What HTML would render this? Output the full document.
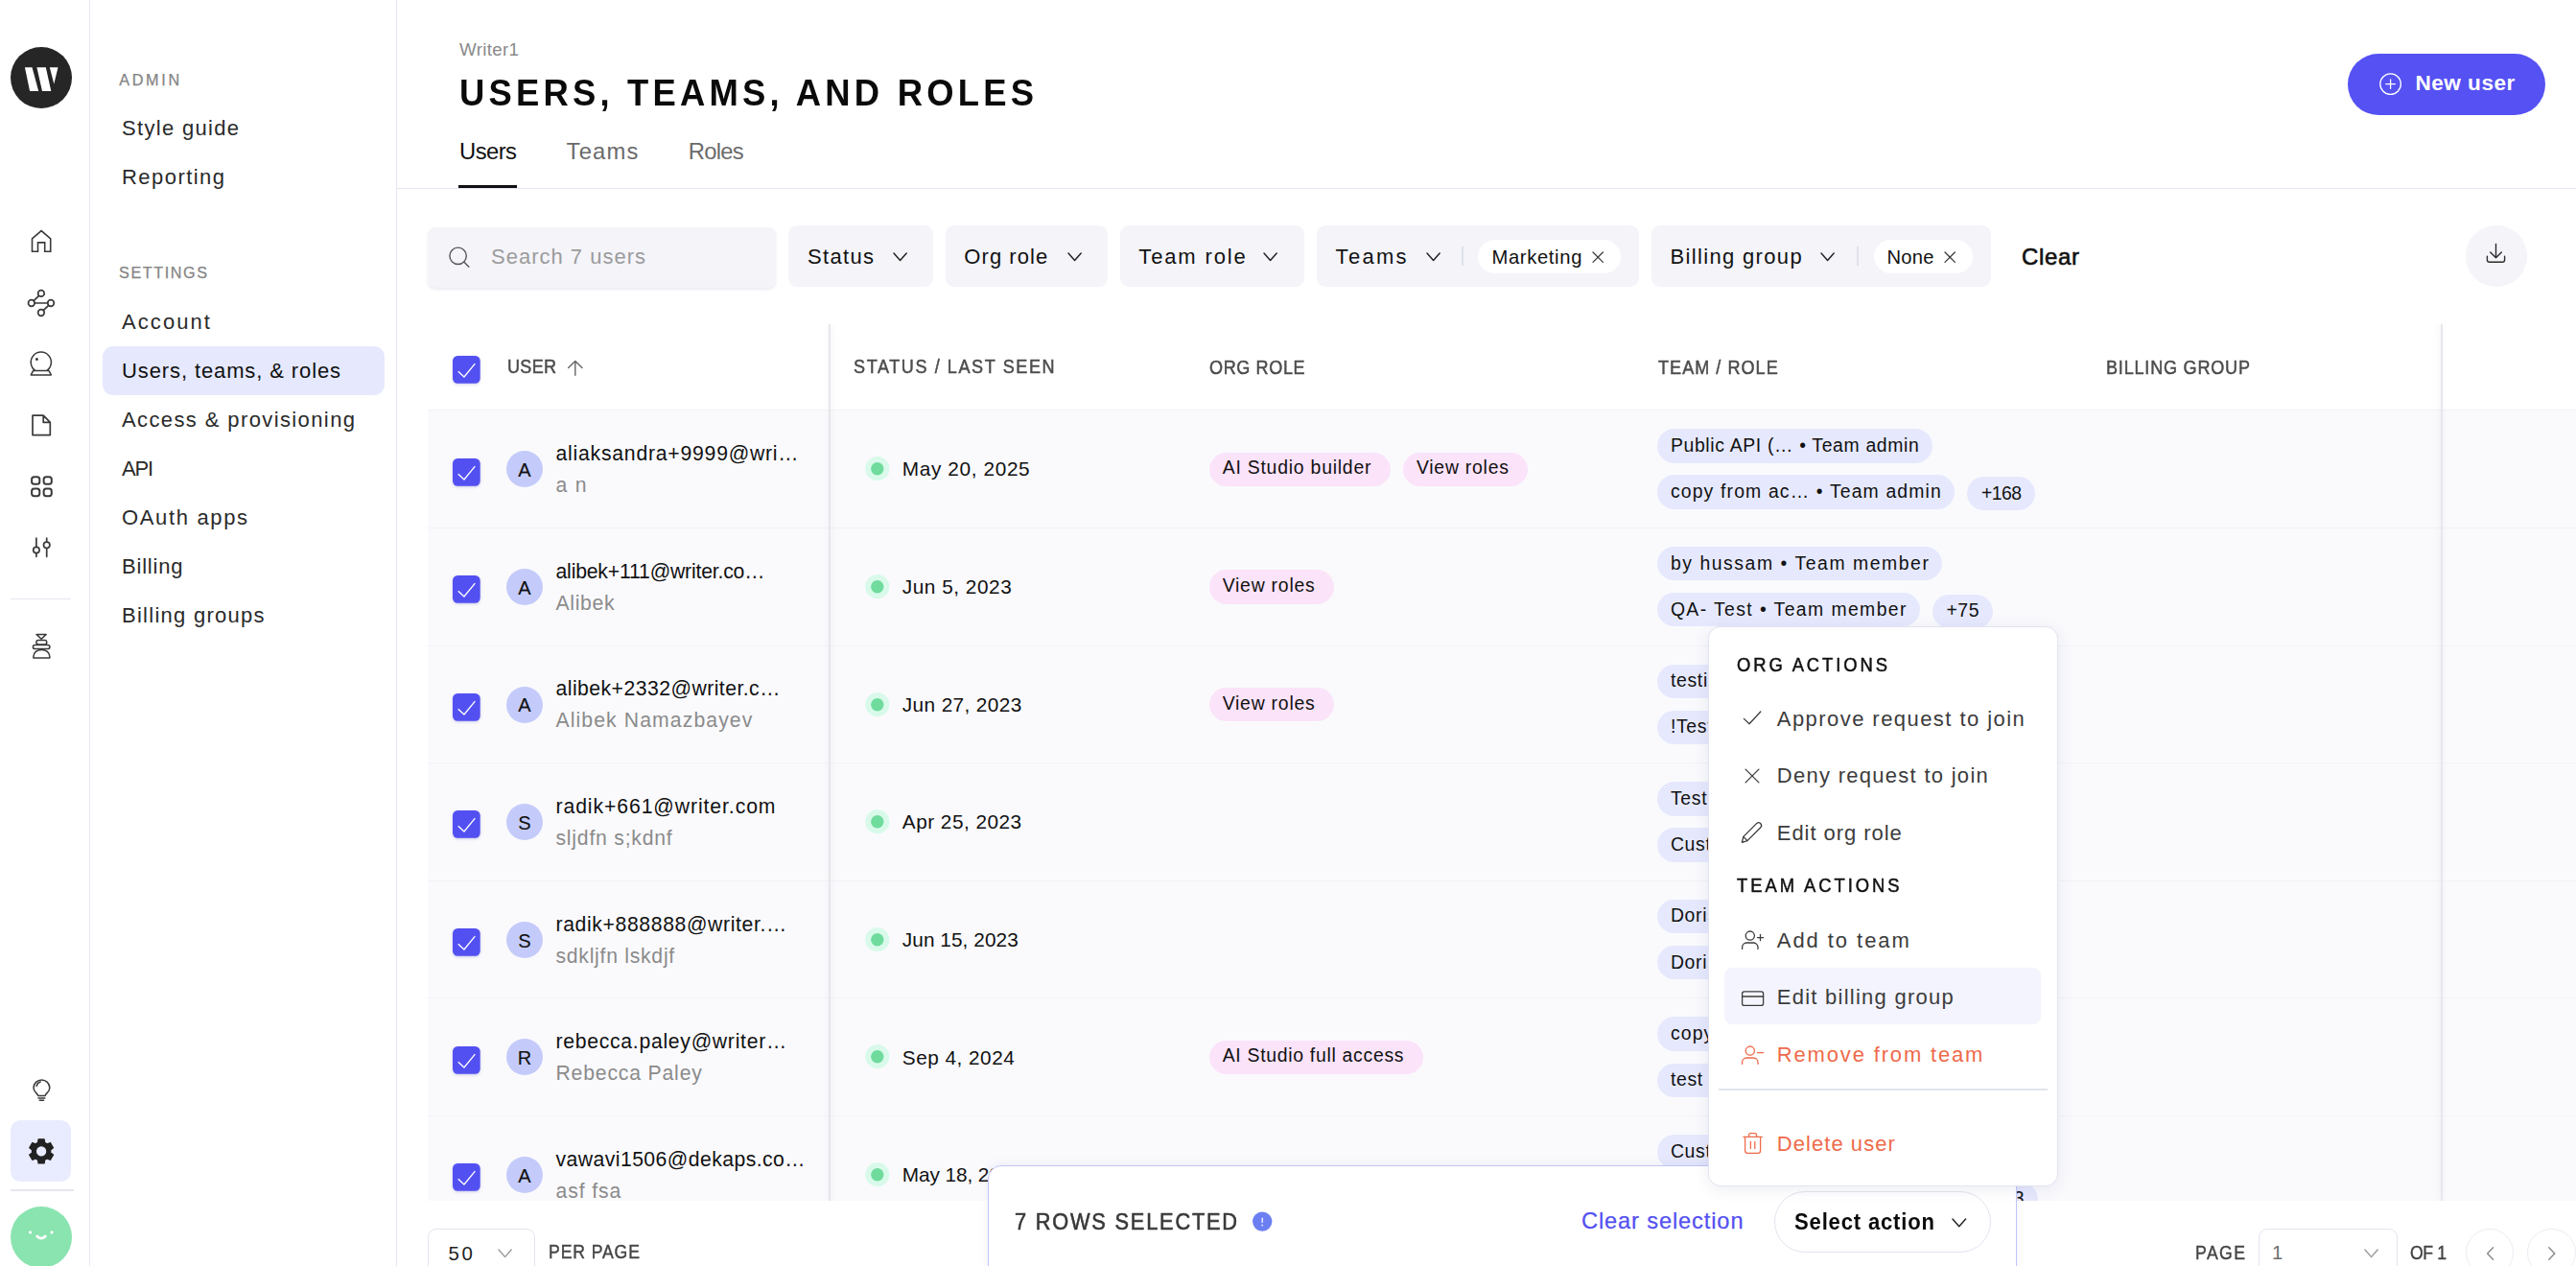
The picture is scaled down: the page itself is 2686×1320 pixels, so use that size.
<!DOCTYPE html>
<html lang="en">
<head>
<meta charset="utf-8">
<title>Users, teams, and roles</title>
<style>
*{box-sizing:border-box;margin:0;padding:0}
html,body{width:2686px;height:1320px;overflow:hidden;background:#fff;font-family:"Liberation Sans", sans-serif;-webkit-font-smoothing:antialiased}
.app,.app div,.app nav,.app aside,.app main,.app header,.app section,.app footer,.app button,.app svg,.t{position:absolute}
.app{overflow:hidden}
button{border:0;background:none;font:inherit}
h1.t{font-weight:700}
a.t{text-decoration:none}
.t{white-space:pre;display:block}
.ic{overflow:visible;display:block}
.rail{border-right:1.4px solid #e5e6f0;background:#fff}
.side{border-right:1.4px solid #e5e6f0;background:#fff}
.hr{background:#e6e7f0}
.tile{background:#e9ecfe;border-radius:10.5px}
.active{background:#e6e9fd;border-radius:11px}
.head{border-bottom:1.4px solid #e4e5ee}
.tabline{background:#111}
.newbtn{background:#5551f3;border-radius:32px}
.search{background:#f4f4f9;border-radius:8px;box-shadow:0 2px 3px rgba(120,120,160,.14)}
.fbtn{background:#f4f4f9;border-radius:9px}
.fsep{background:#e0e1ea}
.fchip{background:#fff;border-radius:18px}
.dl{background:#f4f4f9;border-radius:50%}
.table{overflow:hidden;background:#fafafd}
.thead{background:#fff}
.row{border-top:1.4px solid #f2f2f8}
.av{background:#c4cbfa;border-radius:50%}
.chip{border-radius:18px}
.pink{background:#fbe3f9}
.blue{background:#e6e9fd}
.vline{background:#e6e7ed}
.vline.l{box-shadow:1px 0 6px rgba(90,90,110,.11)}
.vline.r{box-shadow:-1px 0 6px rgba(90,90,110,.11)}
.pager{background:#fff}
.sel{border:1.4px solid #e4e6f0;border-radius:9px;background:#fff}
.circ{border:1.4px solid #ebecf3;border-radius:50%;background:#fff}
.selbar{background:#fff;border:1.4px solid #c0c6f8;border-radius:14px;box-shadow:0 -2px 10px rgba(90,100,200,.08)}
.selact{background:#fff;border:1.4px solid #e3e5ef;border-radius:32px}
.menu{background:#fff;border:1.2px solid #e2e3f1;border-radius:13px;box-shadow:0 3px 16px rgba(70,75,130,.10)}
.mhl{background:#f4f4fe;border-radius:8px}
.mhr{background:#e3e5ef}
</style>
</head>
<body>
<div class="app" style="left:0px;top:0px;width:2686px;height:1320px;">
 <nav class="rail" style="left:0px;top:0px;width:94px;height:1320px;">
  <svg class="ic" style="left:11px;top:49px;" width="64" height="64" viewBox="11 49 64 64"><circle cx="43" cy="81" r="32" fill="#262626"/><path d="M25.9 70.2 H33.5 L40.2 95 H31.1z M38.4 70.2 H47.8 L53.3 95 H44z M51.8 70.2 H60.5 L56.3 87.6z" fill="#fff"/></svg>
  <svg class="ic" style="left:28px;top:236px;" width="30" height="31" viewBox="28 236 30 31"><g fill="none" stroke="#3a3a3a" stroke-width="1.6" stroke-linecap="round" stroke-linejoin="round" ><path d="M33.5 262.3 V248.9 L43.1 240.6 L52.7 248.9 V262.3 H46.7 V252.9 H39.5 V262.3 Z" stroke-linejoin="miter"/></g></svg>
  <svg class="ic" style="left:26px;top:299px;" width="34" height="34" viewBox="26 299 34 34"><g fill="none" stroke="#3a3a3a" stroke-width="1.7" stroke-linecap="round" stroke-linejoin="round" ><circle cx="42.9" cy="305.9" r="3.3"/><circle cx="32.8" cy="316" r="3.3"/><circle cx="53" cy="316" r="3.3"/><circle cx="42.9" cy="326" r="3.3"/><path d="M36.1 316 H49.7 M40.6 308.3 L35.1 313.7 M50.7 318.3 L45.2 323.7"/></g></svg>
  <svg class="ic" style="left:28px;top:364px;" width="30" height="31" viewBox="28 364 30 31"><g fill="none" stroke="#3a3a3a" stroke-width="1.5" stroke-linecap="round" stroke-linejoin="round" ><path d="M36.74 386.4 A10.6 10.6 0 1 1 48.86 386.4 M34.7 386.4 H50.9 L53.3 390.9 H32.3 Z"/><circle cx="38.4" cy="374.5" r="0.75" fill="#3a3a3a"/></g></svg>
  <svg class="ic" style="left:29px;top:429px;" width="28" height="29" viewBox="29 429 28 29"><g fill="none" stroke="#3a3a3a" stroke-width="1.7" stroke-linecap="round" stroke-linejoin="round" ><path d="M34 433.2 H45.2 L52.3 440.4 V453.6 H34 Z M45.2 433.2 V440.4 H52.3"/></g></svg>
  <svg class="ic" style="left:29px;top:493px;" width="29" height="29" viewBox="29 493 29 29"><g fill="none" stroke="#3a3a3a" stroke-width="2" stroke-linecap="round" stroke-linejoin="round" ><rect x="33.1" y="497.2" width="8.2" height="7.6" rx="2.6"/><rect x="33.1" y="509.6" width="8.2" height="7.6" rx="2.6"/><rect x="45.6" y="497.2" width="8.2" height="7.6" rx="2.6"/><rect x="45.6" y="509.6" width="8.2" height="7.6" rx="2.6"/></g></svg>
  <svg class="ic" style="left:30px;top:557px;" width="27" height="27" viewBox="30 557 27 27"><g fill="none" stroke="#3a3a3a" stroke-width="1.7" stroke-linecap="round" stroke-linejoin="round" ><path d="M37.9 561.2 V570.3 M37.9 576.7 V580.3 M48.7 561.2 V565.1 M48.7 571.5 V580.3"/><circle cx="37.9" cy="573.5" r="3.2"/><circle cx="48.7" cy="568.3" r="3.2"/></g></svg>
  <div class="hr" style="left:11px;top:623.5px;width:63px;height:1.5px;"></div>
  <svg class="ic" style="left:29px;top:657px;" width="28" height="33" viewBox="29 657 28 33"><g fill="none" stroke="#3a3a3a" stroke-width="1.5" stroke-linecap="round" stroke-linejoin="round" ><path d="M38 661.4 H48.2 L43.1 666.2 Z"/><rect x="37.9" y="667.5" width="10.9" height="4.4" rx="2.2"/><rect x="34.4" y="672.4" width="17.5" height="4.2" rx="2.1"/><path d="M34.9 685.9 H51.8 V684.6 C51.8 680.2 48 677.4 43.35 677.4 C38.7 677.4 34.9 680.2 34.9 684.6 Z"/></g></svg>
  <svg class="ic" style="left:30px;top:1120px;" width="26" height="32" viewBox="30 1120 26 32"><g fill="none" stroke="#3a3a3a" stroke-width="1.5" stroke-linecap="round" stroke-linejoin="round" ><path d="M39.7 1142.5 C39.7 1140 35 1139.2 35 1134.3 A8.4 8.4 0 0 1 51.8 1134.3 C51.8 1139.2 47.1 1140 47.1 1142.5 Z M40 1145 H46.8 M41.3 1147.3 H45.5 M38.2 1132.4 C38.6 1130 40 1128.6 42.2 1128"/></g></svg>
  <div class="tile" style="left:11px;top:1167.8px;width:62.9px;height:64px;"></div>
  <svg class="ic" style="left:28px;top:1185px;" width="30" height="31" viewBox="28 1185 30 31"><path fill="#222" stroke="#222" stroke-width="1.3" stroke-linejoin="round" fill-rule="evenodd" d="M39.62 1191.34 L40.09 1187.86 L46.11 1187.86 L46.58 1191.34 L49.20 1192.86 L52.46 1191.52 L55.47 1196.74 L52.68 1198.88 L52.68 1201.92 L55.47 1204.06 L52.46 1209.28 L49.20 1207.94 L46.58 1209.46 L46.11 1212.94 L40.09 1212.94 L39.62 1209.46 L37.00 1207.94 L33.74 1209.28 L30.73 1204.06 L33.52 1201.92 L33.52 1198.88 L30.73 1196.74 L33.74 1191.52 L37.00 1192.86Z M37.30 1200.40 a5.8 5.8 0 1 0 11.6 0 a5.8 5.8 0 1 0 -11.6 0z"/></svg>
  <div class="hr" style="left:11px;top:1240px;width:65.6px;height:1.8px;"></div>
  <svg class="ic" style="left:11px;top:1257.5px;" width="64" height="62.5" viewBox="11 1257.5 64 62.5"><circle cx="43" cy="1289.5" r="32" fill="#8ae4b0"/><circle cx="31.5" cy="1284.4" r="1.55" fill="#fff"/><circle cx="54" cy="1284.4" r="1.55" fill="#fff"/><path d="M38.7 1288.5 Q43 1292.8 47.3 1288.5" fill="none" stroke="#fff" stroke-width="2.8" stroke-linecap="round"/></svg>
 </nav>
 <aside class="side" style="left:94px;top:0px;width:320px;height:1320px;">
  <span class="t" style="left:30.2px;top:75px;font-size:16.2px;line-height:16.2px;color:#848484;letter-spacing:2.71px;-webkit-text-stroke:0.25px #848484;">ADMIN</span>
  <span class="t" style="left:33px;top:123px;font-size:22px;line-height:22px;color:#2a2a2a;letter-spacing:1.31px;">Style guide</span>
  <span class="t" style="left:33px;top:174px;font-size:22px;line-height:22px;color:#2a2a2a;letter-spacing:1.45px;">Reporting</span>
  <span class="t" style="left:30px;top:276px;font-size:16.2px;line-height:16.2px;color:#848484;letter-spacing:1.58px;-webkit-text-stroke:0.25px #848484;">SETTINGS</span>
  <div class="active" style="left:13px;top:361px;width:294px;height:51px;"></div>
  <a class="t" style="left:33px;top:325px;font-size:22px;line-height:22px;color:#2a2a2a;letter-spacing:2.08px;">Account</a>
  <a class="t" style="left:33px;top:376px;font-size:22px;line-height:22px;color:#111;letter-spacing:0.89px;">Users, teams, &amp; roles</a>
  <a class="t" style="left:33px;top:427px;font-size:22px;line-height:22px;color:#2a2a2a;letter-spacing:1.39px;">Access &amp; provisioning</a>
  <a class="t" style="left:33px;top:478px;font-size:22px;line-height:22px;color:#2a2a2a;letter-spacing:-1.23px;">API</a>
  <a class="t" style="left:33px;top:529px;font-size:22px;line-height:22px;color:#2a2a2a;letter-spacing:1.65px;">OAuth apps</a>
  <a class="t" style="left:33px;top:580px;font-size:22px;line-height:22px;color:#2a2a2a;letter-spacing:0.8px;">Billing</a>
  <a class="t" style="left:33px;top:631px;font-size:22px;line-height:22px;color:#2a2a2a;letter-spacing:1.27px;">Billing groups</a>
 </aside>
 <main class="main" style="left:414px;top:0px;width:2272px;height:1320px;">
  <header class="head" style="left:0px;top:0px;width:2272px;height:196.8px;">
   <span class="t" style="left:65px;top:43px;font-size:18.8px;line-height:18.8px;color:#8a8a8a;letter-spacing:0.3px;">Writer1</span>
   <h1 class="t" style="left:65.4px;top:77px;font-size:39.6px;line-height:39.6px;color:#0a0a0a;font-weight:700;letter-spacing:4.57px;transform:scaleX(0.92);transform-origin:0 0;">USERS, TEAMS, AND ROLES</h1>
   <a class="t" style="left:65px;top:146px;font-size:23.8px;line-height:23.8px;color:#111;letter-spacing:-0.54px;">Users</a>
   <a class="t" style="left:176.5px;top:146px;font-size:23.8px;line-height:23.8px;color:#6a6a6a;letter-spacing:1.23px;">Teams</a>
   <a class="t" style="left:303.7px;top:146px;font-size:23.8px;line-height:23.8px;color:#6a6a6a;letter-spacing:-0.71px;">Roles</a>
   <div class="tabline" style="left:64px;top:192.9px;width:61px;height:3.2px;"></div>
   <button class="newbtn" style="left:2034.4px;top:55.7px;width:206px;height:64px;">
    <svg class="ic" style="left:29.6px;top:17.3px;" width="29" height="29" viewBox="2478 73 29 29"><g fill="none" stroke="#fff" stroke-width="1.3" stroke-linecap="round" stroke-linejoin="round" ><circle cx="2492.6" cy="87.6" r="10.8"/><path d="M2487.8 87.6 H2497.4 M2492.6 82.8 V92.4"/></g></svg>
    <span class="t" style="left:70px;top:20.3px;font-size:22.6px;line-height:22.6px;color:#fff;font-weight:700;letter-spacing:0.5px;">New user</span>
   </button>
  </header>
  <section class="filters" style="left:0px;top:226px;width:2272px;height:84px;">
   <div class="search" style="left:32px;top:11px;width:363px;height:63px;">
    <svg class="ic" style="left:18px;top:16px;" width="30" height="30" viewBox="464 253 30 30"><g fill="none" stroke="#555" stroke-width="1.4" stroke-linecap="round" stroke-linejoin="round" ><circle cx="477.6" cy="266.8" r="8.7"/><path d="M484 273.2 L488.8 278.2"/></g></svg>
    <span class="t" style="left:66px;top:20px;font-size:22px;line-height:22px;color:#9b9b9b;letter-spacing:1px;">Search 7 users</span>
   </div>
   <button class="fbtn" style="left:408px;top:9px;width:151px;height:64px;">
    <span class="t" style="left:20px;top:22px;font-size:22px;line-height:22px;color:#111;letter-spacing:1.32px;">Status</span>
    <svg class="ic" style="left:107.3px;top:26.4px;" width="19.2" height="13.6" viewBox="929.3 261.4 19.2 13.6"><g fill="none" stroke="#222" stroke-width="1.45" stroke-linecap="round" stroke-linejoin="round" ><path d="M932.3 264.4 L938.9 272 L945.5 264.4"/></g></svg>
   </button>
   <button class="fbtn" style="left:572px;top:9px;width:169.4px;height:64px;">
    <span class="t" style="left:19.3px;top:22px;font-size:22px;line-height:22px;color:#111;letter-spacing:1.07px;">Org role</span>
    <svg class="ic" style="left:124.9px;top:26.4px;" width="19.2" height="13.6" viewBox="1110.9 261.4 19.2 13.6"><g fill="none" stroke="#222" stroke-width="1.45" stroke-linecap="round" stroke-linejoin="round" ><path d="M1113.9 264.4 L1120.5 272 L1127.1 264.4"/></g></svg>
   </button>
   <button class="fbtn" style="left:753.7px;top:9px;width:192.1px;height:64px;">
    <span class="t" style="left:19.6px;top:22px;font-size:22px;line-height:22px;color:#111;letter-spacing:1.86px;">Team role</span>
    <svg class="ic" style="left:147.7px;top:26.4px;" width="19.2" height="13.6" viewBox="1315.4 261.4 19.2 13.6"><g fill="none" stroke="#222" stroke-width="1.45" stroke-linecap="round" stroke-linejoin="round" ><path d="M1318.4 264.4 L1325 272 L1331.6 264.4"/></g></svg>
   </button>
   <button class="fbtn" style="left:959px;top:9px;width:335.7px;height:64px;">
    <span class="t" style="left:19.6px;top:22px;font-size:22px;line-height:22px;color:#111;letter-spacing:2.3px;">Teams</span>
    <svg class="ic" style="left:111.9px;top:26.4px;" width="19.2" height="13.6" viewBox="1484.9 261.4 19.2 13.6"><g fill="none" stroke="#222" stroke-width="1.45" stroke-linecap="round" stroke-linejoin="round" ><path d="M1487.9 264.4 L1494.5 272 L1501.1 264.4"/></g></svg>
    <div class="fsep" style="left:151.3px;top:22px;width:1.5px;height:20px;"></div>
    <div class="fchip" style="left:168px;top:15.3px;width:148.6px;height:34.5px;">
     <span class="t" style="left:14.4px;top:7.7px;font-size:20.2px;line-height:20.2px;color:#111;letter-spacing:0.67px;">Marketing</span>
     <svg class="ic" style="left:116.8px;top:9.5px;" width="16.4" height="16.4" viewBox="1657.8 259.8 16.4 16.4"><g fill="none" stroke="#3a3a3a" stroke-width="1.25" stroke-linecap="round" stroke-linejoin="round" ><path d="M1660.8 262.8 L1671.2 273.2 M1671.2 262.8 L1660.8 273.2"/></g></svg>
    </div>
   </button>
   <button class="fbtn" style="left:1308px;top:9px;width:353.6px;height:64px;">
    <span class="t" style="left:19.6px;top:22px;font-size:22px;line-height:22px;color:#111;letter-spacing:1.33px;">Billing group</span>
    <svg class="ic" style="left:174.4px;top:26.4px;" width="19.2" height="13.6" viewBox="1896.4 261.4 19.2 13.6"><g fill="none" stroke="#222" stroke-width="1.45" stroke-linecap="round" stroke-linejoin="round" ><path d="M1899.4 264.4 L1906 272 L1912.6 264.4"/></g></svg>
    <div class="fsep" style="left:214.3px;top:22px;width:1.5px;height:20px;"></div>
    <div class="fchip" style="left:232px;top:15.3px;width:102.6px;height:34.5px;">
     <span class="t" style="left:13.5px;top:7.7px;font-size:20.2px;line-height:20.2px;color:#111;letter-spacing:0.24px;">None</span>
     <svg class="ic" style="left:70.8px;top:9.5px;" width="16.4" height="16.4" viewBox="2024.8 259.8 16.4 16.4"><g fill="none" stroke="#3a3a3a" stroke-width="1.25" stroke-linecap="round" stroke-linejoin="round" ><path d="M2027.8 262.8 L2038.2 273.2 M2038.2 262.8 L2027.8 273.2"/></g></svg>
    </div>
   </button>
   <a class="t" style="left:1694px;top:30px;font-size:24px;line-height:24px;color:#111;letter-spacing:0.66px;-webkit-text-stroke:0.6px #111;">Clear</a>
   <button class="dl" style="left:2157px;top:9px;width:63.5px;height:63.5px;">
    <svg class="ic" style="left:17px;top:15px;" width="30" height="30" viewBox="2588 250 30 30"><g fill="none" stroke="#2c2c2c" stroke-width="1.4" stroke-linecap="round" stroke-linejoin="round" ><path d="M2602.5 254.4 V268.8 M2596.7 263 L2602.5 268.8 L2608.3 263 M2593.4 267.2 V271 Q2593.4 273.3 2595.7 273.3 H2609.3 Q2611.6 273.3 2611.6 271 V267.2"/></g></svg>
   </button>
  </section>
  <section class="table" style="left:32px;top:338px;width:2240px;height:913.5px;">
   <div class="thead" style="left:0px;top:0px;width:2240px;height:89.3px;">
    <svg class="ic" style="left:24px;top:31.4px;filter:drop-shadow(0 1px 1.5px rgba(60,60,160,.25));" width="32.7" height="34.7" viewBox="470 369.4 32.7 34.7"><rect x="472" y="371.4" width="28.7" height="28.7" rx="5.2" fill="#5350f2"/><path d="M477.75 387.55 L483.95 393.35 L495.35 379.55" fill="none" stroke="#fff" stroke-width="1.35"/></svg>
    <span class="t" style="left:82.6px;top:34px;font-size:20.5px;line-height:20.5px;color:#4c4c4c;letter-spacing:0.33px;-webkit-text-stroke:0.5px #4c4c4c;transform:scaleX(0.88);transform-origin:0 0;">USER</span>
    <svg class="ic" style="left:142px;top:33px;" width="24" height="26" viewBox="588 371 24 26"><g fill="none" stroke="#666" stroke-width="1.4" stroke-linecap="round" stroke-linejoin="round" ><path d="M599.8 391.2 V376.6 M592.6 383.6 L599.8 376.4 L607 383.6"/></g></svg>
    <span class="t" style="left:444.2px;top:34px;font-size:20.5px;line-height:20.5px;color:#4c4c4c;letter-spacing:1.81px;-webkit-text-stroke:0.5px #4c4c4c;transform:scaleX(0.88);transform-origin:0 0;">STATUS / LAST SEEN</span>
    <span class="t" style="left:814.7px;top:35px;font-size:20.5px;line-height:20.5px;color:#4c4c4c;letter-spacing:0.71px;-webkit-text-stroke:0.5px #4c4c4c;transform:scaleX(0.88);transform-origin:0 0;">ORG ROLE</span>
    <span class="t" style="left:1283px;top:35px;font-size:20.5px;line-height:20.5px;color:#4c4c4c;letter-spacing:1.18px;-webkit-text-stroke:0.5px #4c4c4c;transform:scaleX(0.88);transform-origin:0 0;">TEAM / ROLE</span>
    <span class="t" style="left:1749.5px;top:35px;font-size:20.5px;line-height:20.5px;color:#4c4c4c;letter-spacing:0.91px;-webkit-text-stroke:0.5px #4c4c4c;transform:scaleX(0.88);transform-origin:0 0;">BILLING GROUP</span>
   </div>
   <div class="row" style="left:0px;top:89.3px;width:2240px;height:122.62px;">
    <svg class="ic" style="left:24px;top:47.3px;filter:drop-shadow(0 1px 1.5px rgba(60,60,160,.25));" width="32.7" height="34.7" viewBox="470 474.6 32.7 34.7"><rect x="472" y="476.6" width="28.7" height="28.7" rx="5.2" fill="#5350f2"/><path d="M477.75 492.75 L483.95 498.55 L495.35 484.75" fill="none" stroke="#fff" stroke-width="1.35"/></svg>
    <div class="av" style="left:81.8px;top:42px;width:38px;height:38px;">
     <span class="t" style="left:12.4px;top:9.7px;font-size:20px;line-height:20px;color:#111;-webkit-text-stroke:0.15px #111;">A</span>
    </div>
    <span class="t" style="left:133.5px;top:33.7px;font-size:21.2px;line-height:21.2px;color:#111;letter-spacing:0.77px;">aliaksandra+9999@wri…</span>
    <span class="t" style="left:133.5px;top:66.7px;font-size:21.2px;line-height:21.2px;color:#8b8b8b;letter-spacing:1.27px;">a n</span>
    <svg class="ic" style="left:455px;top:47.1px;" width="28" height="28" viewBox="901 474.4 28 28"><circle cx="914.8" cy="488.1" r="12.6" fill="#d9faea"/><circle cx="914.8" cy="488.1" r="6.7" fill="#6fdb9d"/></svg>
    <span class="t" style="left:494.8px;top:50.7px;font-size:20.8px;line-height:20.8px;color:#111;letter-spacing:0.62px;">May 20, 2025</span>
    <div class="chip pink" style="left:814.7px;top:43.3px;width:189.3px;height:35.4px;">
     <span class="t" style="left:14px;top:6.4px;font-size:19.4px;line-height:19.4px;color:#111;letter-spacing:0.78px;">AI Studio builder</span>
    </div>
    <div class="chip pink" style="left:1016.9px;top:43.3px;width:130.5px;height:35.4px;">
     <span class="t" style="left:14px;top:6.4px;font-size:19.4px;line-height:19.4px;color:#111;letter-spacing:0.77px;">View roles</span>
    </div>
    <div class="chip blue" style="left:1282px;top:19.1px;width:287.2px;height:35.4px;">
     <span class="t" style="left:13.9px;top:7.6px;font-size:19.4px;line-height:19.4px;color:#111;letter-spacing:0.66px;">Public API (… • Team admin</span>
    </div>
    <div class="chip blue" style="left:1282px;top:67.2px;width:310.2px;height:35.4px;">
     <span class="t" style="left:13.9px;top:7.5px;font-size:19.4px;line-height:19.4px;color:#111;letter-spacing:1.15px;">copy from ac… • Team admin</span>
    </div>
    <div class="chip blue" style="left:1605.4px;top:68.6px;width:71px;height:35.4px;">
     <span class="t" style="left:14.6px;top:8.1px;font-size:19.4px;line-height:19.4px;color:#111;letter-spacing:-0.56px;">+168</span>
    </div>
   </div>
   <div class="row" style="left:0px;top:211.92px;width:2240px;height:122.62px;">
    <svg class="ic" style="left:24px;top:47.3px;filter:drop-shadow(0 1px 1.5px rgba(60,60,160,.25));" width="32.7" height="34.7" viewBox="470 597.22 32.7 34.7"><rect x="472" y="599.22" width="28.7" height="28.7" rx="5.2" fill="#5350f2"/><path d="M477.75 615.37 L483.95 621.17 L495.35 607.37" fill="none" stroke="#fff" stroke-width="1.35"/></svg>
    <div class="av" style="left:81.8px;top:42px;width:38px;height:38px;">
     <span class="t" style="left:12.4px;top:10.08px;font-size:20px;line-height:20px;color:#111;-webkit-text-stroke:0.15px #111;">A</span>
    </div>
    <span class="t" style="left:133.5px;top:34.08px;font-size:21.2px;line-height:21.2px;color:#111;letter-spacing:-0.18px;">alibek+111@writer.co…</span>
    <span class="t" style="left:133.5px;top:67.08px;font-size:21.2px;line-height:21.2px;color:#8b8b8b;letter-spacing:0.66px;">Alibek</span>
    <svg class="ic" style="left:455px;top:47.1px;" width="28" height="28" viewBox="901 597.02 28 28"><circle cx="914.8" cy="610.72" r="12.6" fill="#d9faea"/><circle cx="914.8" cy="610.72" r="6.7" fill="#6fdb9d"/></svg>
    <span class="t" style="left:494.8px;top:51.08px;font-size:20.8px;line-height:20.8px;color:#111;letter-spacing:0.52px;">Jun 5, 2023</span>
    <div class="chip pink" style="left:814.7px;top:43.3px;width:130.5px;height:35.4px;">
     <span class="t" style="left:14px;top:6.78px;font-size:19.4px;line-height:19.4px;color:#111;letter-spacing:0.77px;">View roles</span>
    </div>
    <div class="chip blue" style="left:1282px;top:19.1px;width:297.2px;height:35.4px;">
     <span class="t" style="left:13.9px;top:7.98px;font-size:19.4px;line-height:19.4px;color:#111;letter-spacing:1.55px;">by hussam • Team member</span>
    </div>
    <div class="chip blue" style="left:1282px;top:67.2px;width:273.7px;height:35.4px;">
     <span class="t" style="left:13.9px;top:7.88px;font-size:19.4px;line-height:19.4px;color:#111;letter-spacing:1.4px;">QA- Test • Team member</span>
    </div>
    <div class="chip blue" style="left:1568.9px;top:68.6px;width:63px;height:35.4px;">
     <span class="t" style="left:14.6px;top:7.48px;font-size:19.4px;line-height:19.4px;color:#111;letter-spacing:0.55px;">+75</span>
    </div>
   </div>
   <div class="row" style="left:0px;top:334.54px;width:2240px;height:122.62px;">
    <svg class="ic" style="left:24px;top:47.3px;filter:drop-shadow(0 1px 1.5px rgba(60,60,160,.25));" width="32.7" height="34.7" viewBox="470 719.84 32.7 34.7"><rect x="472" y="721.84" width="28.7" height="28.7" rx="5.2" fill="#5350f2"/><path d="M477.75 737.99 L483.95 743.79 L495.35 729.99" fill="none" stroke="#fff" stroke-width="1.35"/></svg>
    <div class="av" style="left:81.8px;top:42px;width:38px;height:38px;">
     <span class="t" style="left:12.4px;top:9.46px;font-size:20px;line-height:20px;color:#111;-webkit-text-stroke:0.15px #111;">A</span>
    </div>
    <span class="t" style="left:133.5px;top:33.46px;font-size:21.2px;line-height:21.2px;color:#111;letter-spacing:0.46px;">alibek+2332@writer.c…</span>
    <span class="t" style="left:133.5px;top:66.46px;font-size:21.2px;line-height:21.2px;color:#8b8b8b;letter-spacing:1.1px;">Alibek Namazbayev</span>
    <svg class="ic" style="left:455px;top:47.1px;" width="28" height="28" viewBox="901 719.64 28 28"><circle cx="914.8" cy="733.34" r="12.6" fill="#d9faea"/><circle cx="914.8" cy="733.34" r="6.7" fill="#6fdb9d"/></svg>
    <span class="t" style="left:494.8px;top:51.46px;font-size:20.8px;line-height:20.8px;color:#111;letter-spacing:0.38px;">Jun 27, 2023</span>
    <div class="chip pink" style="left:814.7px;top:43.3px;width:130.5px;height:35.4px;">
     <span class="t" style="left:14px;top:7.16px;font-size:19.4px;line-height:19.4px;color:#111;letter-spacing:0.77px;">View roles</span>
    </div>
    <div class="chip blue" style="left:1282px;top:19.1px;width:300px;height:35.4px;">
     <span class="t" style="left:13.9px;top:7.36px;font-size:19.4px;line-height:19.4px;color:#111;letter-spacing:0.7px;">testing team • Team member</span>
    </div>
    <div class="chip blue" style="left:1282px;top:67.2px;width:300px;height:35.4px;">
     <span class="t" style="left:13.9px;top:7.26px;font-size:19.4px;line-height:19.4px;color:#111;letter-spacing:0.7px;">!Test • Team member</span>
    </div>
   </div>
   <div class="row" style="left:0px;top:457.16px;width:2240px;height:122.62px;">
    <svg class="ic" style="left:24px;top:47.3px;filter:drop-shadow(0 1px 1.5px rgba(60,60,160,.25));" width="32.7" height="34.7" viewBox="470 842.46 32.7 34.7"><rect x="472" y="844.46" width="28.7" height="28.7" rx="5.2" fill="#5350f2"/><path d="M477.75 860.61 L483.95 866.41 L495.35 852.61" fill="none" stroke="#fff" stroke-width="1.35"/></svg>
    <div class="av" style="left:81.8px;top:42px;width:38px;height:38px;">
     <span class="t" style="left:12.5px;top:9.84px;font-size:20px;line-height:20px;color:#111;-webkit-text-stroke:0.15px #111;">S</span>
    </div>
    <span class="t" style="left:133.5px;top:33.84px;font-size:21.2px;line-height:21.2px;color:#111;letter-spacing:0.91px;">radik+661@writer.com</span>
    <span class="t" style="left:133.5px;top:66.84px;font-size:21.2px;line-height:21.2px;color:#8b8b8b;letter-spacing:0.78px;">sljdfn s;kdnf</span>
    <svg class="ic" style="left:455px;top:47.1px;" width="28" height="28" viewBox="901 842.26 28 28"><circle cx="914.8" cy="855.96" r="12.6" fill="#d9faea"/><circle cx="914.8" cy="855.96" r="6.7" fill="#6fdb9d"/></svg>
    <span class="t" style="left:494.8px;top:50.84px;font-size:20.8px;line-height:20.8px;color:#111;letter-spacing:0.48px;">Apr 25, 2023</span>
    <div class="chip blue" style="left:1282px;top:19.1px;width:300px;height:35.4px;">
     <span class="t" style="left:13.9px;top:7.74px;font-size:19.4px;line-height:19.4px;color:#111;letter-spacing:0.7px;">Test team • Team member</span>
    </div>
    <div class="chip blue" style="left:1282px;top:67.2px;width:300px;height:35.4px;">
     <span class="t" style="left:13.9px;top:7.64px;font-size:19.4px;line-height:19.4px;color:#111;letter-spacing:0.7px;">Customer su… • Team member</span>
    </div>
   </div>
   <div class="row" style="left:0px;top:579.78px;width:2240px;height:122.62px;">
    <svg class="ic" style="left:24px;top:47.3px;filter:drop-shadow(0 1px 1.5px rgba(60,60,160,.25));" width="32.7" height="34.7" viewBox="470 965.08 32.7 34.7"><rect x="472" y="967.08" width="28.7" height="28.7" rx="5.2" fill="#5350f2"/><path d="M477.75 983.23 L483.95 989.03 L495.35 975.23" fill="none" stroke="#fff" stroke-width="1.35"/></svg>
    <div class="av" style="left:81.8px;top:42px;width:38px;height:38px;">
     <span class="t" style="left:12.5px;top:10.22px;font-size:20px;line-height:20px;color:#111;-webkit-text-stroke:0.15px #111;">S</span>
    </div>
    <span class="t" style="left:133.5px;top:34.22px;font-size:21.2px;line-height:21.2px;color:#111;letter-spacing:0.62px;">radik+888888@writer.…</span>
    <span class="t" style="left:133.5px;top:67.22px;font-size:21.2px;line-height:21.2px;color:#8b8b8b;letter-spacing:0.73px;">sdkljfn lskdjf</span>
    <svg class="ic" style="left:455px;top:47.1px;" width="28" height="28" viewBox="901 964.88 28 28"><circle cx="914.8" cy="978.58" r="12.6" fill="#d9faea"/><circle cx="914.8" cy="978.58" r="6.7" fill="#6fdb9d"/></svg>
    <span class="t" style="left:494.8px;top:51.22px;font-size:20.8px;line-height:20.8px;color:#111;letter-spacing:0.06px;">Jun 15, 2023</span>
    <div class="chip blue" style="left:1282px;top:19.1px;width:300px;height:35.4px;">
     <span class="t" style="left:13.9px;top:7.12px;font-size:19.4px;line-height:19.4px;color:#111;letter-spacing:0.7px;">Doris team • Team member</span>
    </div>
    <div class="chip blue" style="left:1282px;top:67.2px;width:300px;height:35.4px;">
     <span class="t" style="left:13.9px;top:8.02px;font-size:19.4px;line-height:19.4px;color:#111;letter-spacing:0.7px;">Doris test • Team member</span>
    </div>
   </div>
   <div class="row" style="left:0px;top:702.4px;width:2240px;height:122.62px;">
    <svg class="ic" style="left:24px;top:47.3px;filter:drop-shadow(0 1px 1.5px rgba(60,60,160,.25));" width="32.7" height="34.7" viewBox="470 1087.7 32.7 34.7"><rect x="472" y="1089.7" width="28.7" height="28.7" rx="5.2" fill="#5350f2"/><path d="M477.75 1105.85 L483.95 1111.65 L495.35 1097.85" fill="none" stroke="#fff" stroke-width="1.35"/></svg>
    <div class="av" style="left:81.8px;top:42px;width:38px;height:38px;">
     <span class="t" style="left:11.95px;top:9.6px;font-size:20px;line-height:20px;color:#111;-webkit-text-stroke:0.15px #111;">R</span>
    </div>
    <span class="t" style="left:133.5px;top:33.6px;font-size:21.2px;line-height:21.2px;color:#111;letter-spacing:0.71px;">rebecca.paley@writer…</span>
    <span class="t" style="left:133.5px;top:66.6px;font-size:21.2px;line-height:21.2px;color:#8b8b8b;letter-spacing:0.82px;">Rebecca Paley</span>
    <svg class="ic" style="left:455px;top:47.1px;" width="28" height="28" viewBox="901 1087.5 28 28"><circle cx="914.8" cy="1101.2" r="12.6" fill="#d9faea"/><circle cx="914.8" cy="1101.2" r="6.7" fill="#6fdb9d"/></svg>
    <span class="t" style="left:494.8px;top:51.6px;font-size:20.8px;line-height:20.8px;color:#111;letter-spacing:0.48px;">Sep 4, 2024</span>
    <div class="chip pink" style="left:814.7px;top:43.3px;width:223.3px;height:35.4px;">
     <span class="t" style="left:14px;top:6.3px;font-size:19.4px;line-height:19.4px;color:#111;letter-spacing:0.71px;">AI Studio full access</span>
    </div>
    <div class="chip blue" style="left:1282px;top:19.1px;width:310.2px;height:35.4px;">
     <span class="t" style="left:13.9px;top:7.5px;font-size:19.4px;line-height:19.4px;color:#111;letter-spacing:1.15px;">copy from ac… • Team admin</span>
    </div>
    <div class="chip blue" style="left:1282px;top:67.2px;width:300px;height:35.4px;">
     <span class="t" style="left:13.9px;top:7.4px;font-size:19.4px;line-height:19.4px;color:#111;letter-spacing:0.7px;">test • Team member</span>
    </div>
   </div>
   <div class="row" style="left:0px;top:825.02px;width:2240px;height:122.62px;">
    <svg class="ic" style="left:24px;top:47.3px;filter:drop-shadow(0 1px 1.5px rgba(60,60,160,.25));" width="32.7" height="34.7" viewBox="470 1210.32 32.7 34.7"><rect x="472" y="1212.32" width="28.7" height="28.7" rx="5.2" fill="#5350f2"/><path d="M477.75 1228.47 L483.95 1234.27 L495.35 1220.47" fill="none" stroke="#fff" stroke-width="1.35"/></svg>
    <div class="av" style="left:81.8px;top:42px;width:38px;height:38px;">
     <span class="t" style="left:12.4px;top:9.98px;font-size:20px;line-height:20px;color:#111;-webkit-text-stroke:0.15px #111;">A</span>
    </div>
    <span class="t" style="left:133.5px;top:33.98px;font-size:21.2px;line-height:21.2px;color:#111;letter-spacing:0.44px;">vawavi1506@dekaps.co…</span>
    <span class="t" style="left:133.5px;top:66.98px;font-size:21.2px;line-height:21.2px;color:#8b8b8b;letter-spacing:0.9px;">asf fsa</span>
    <svg class="ic" style="left:455px;top:47.1px;" width="28" height="28" viewBox="901 1210.12 28 28"><circle cx="914.8" cy="1223.82" r="12.6" fill="#d9faea"/><circle cx="914.8" cy="1223.82" r="6.7" fill="#6fdb9d"/></svg>
    <span class="t" style="left:494.8px;top:50.98px;font-size:20.8px;line-height:20.8px;color:#111;letter-spacing:-0.09px;">May 18, 2025</span>
    <div class="chip blue" style="left:1282px;top:19.1px;width:300px;height:35.4px;">
     <span class="t" style="left:13.9px;top:7.88px;font-size:19.4px;line-height:19.4px;color:#111;letter-spacing:0.7px;">Customer su… • Team member</span>
    </div>
    <div class="chip blue" style="left:1282px;top:67.2px;width:310.2px;height:35.4px;">
     <span class="t" style="left:13.9px;top:7.78px;font-size:19.4px;line-height:19.4px;color:#111;letter-spacing:1.15px;">copy from ac… • Team admin</span>
    </div>
    <div class="chip blue" style="left:1605.4px;top:68.6px;width:73.6px;height:35.4px;">
     <span class="t" style="left:14.6px;top:7.38px;font-size:19.4px;line-height:19.4px;color:#111;letter-spacing:0.3px;">+103</span>
    </div>
   </div>
   <div class="vline l" style="left:418px;top:0px;width:2px;height:913.5px;"></div>
   <div class="vline r" style="left:2099.2px;top:0px;width:2px;height:913.5px;"></div>
  </section>
  <footer class="pager" style="left:0px;top:1252px;width:2272px;height:68px;">
   <div class="sel" style="left:31.7px;top:28.8px;width:112.6px;height:60px;">
    <span class="t" style="left:20.7px;top:15.2px;font-size:20.4px;line-height:20.4px;color:#222;letter-spacing:2.81px;">50</span>
    <svg class="ic" style="left:70.5px;top:17.8px;" width="19.2" height="13.6" viewBox="516.2 1298.6 19.2 13.6"><g fill="none" stroke="#999" stroke-width="1.4" stroke-linecap="round" stroke-linejoin="round" ><path d="M519.2 1301.6 L525.8 1309.2 L532.4 1301.6"/></g></svg>
   </div>
   <span class="t" style="left:157.5px;top:44px;font-size:19.6px;line-height:19.6px;color:#444;letter-spacing:0.97px;-webkit-text-stroke:0.4px #444;transform:scaleX(0.9);transform-origin:0 0;">PER PAGE</span>
   <span class="t" style="left:1875.2px;top:45px;font-size:19.6px;line-height:19.6px;color:#444;letter-spacing:1.59px;-webkit-text-stroke:0.4px #444;transform:scaleX(0.9);transform-origin:0 0;">PAGE</span>
   <div class="sel" style="left:1941.4px;top:28.9px;width:144.2px;height:60px;">
    <span class="t" style="left:12.6px;top:14.1px;font-size:20.4px;line-height:20.4px;color:#6f6f6f;">1</span>
    <svg class="ic" style="left:106.6px;top:17.9px;" width="19.2" height="13.6" viewBox="2462 1298.8 19.2 13.6"><g fill="none" stroke="#999" stroke-width="1.4" stroke-linecap="round" stroke-linejoin="round" ><path d="M2465 1301.8 L2471.6 1309.4 L2478.2 1301.8"/></g></svg>
   </div>
   <span class="t" style="left:2098.6px;top:45px;font-size:19.6px;line-height:19.6px;color:#444;letter-spacing:-0.45px;-webkit-text-stroke:0.4px #444;transform:scaleX(0.9);transform-origin:0 0;">OF 1</span>
   <button class="circ" style="left:2157px;top:28.9px;width:50.4px;height:50.4px;">
    <svg class="ic" style="left:15px;top:15.1px;" width="20" height="22" viewBox="2586 1296 20 22"><g fill="none" stroke="#888" stroke-width="1.4" stroke-linecap="round" stroke-linejoin="round" ><path d="M2598.6 1299.8 L2592.6 1306 L2598.6 1312.2"/></g></svg>
   </button>
   <button class="circ" style="left:2221.3px;top:28.9px;width:50.4px;height:50.4px;">
    <svg class="ic" style="left:14.7px;top:15.1px;" width="20" height="22" viewBox="2650 1296 20 22"><g fill="none" stroke="#888" stroke-width="1.4" stroke-linecap="round" stroke-linejoin="round" ><path d="M2656.8 1299.8 L2662.8 1306 L2656.8 1312.2"/></g></svg>
   </button>
  </footer>
 </main>
 <div class="selbar" style="left:1030.3px;top:1215.2px;width:1072.6px;height:140px;">
  <span class="t" style="left:26.9px;top:45.8px;font-size:24.2px;line-height:24.2px;color:#383838;letter-spacing:2px;-webkit-text-stroke:0.6px #383838;transform:scaleX(0.9);transform-origin:0 0;">7 ROWS SELECTED</span>
  <svg class="ic" style="left:273.7px;top:46.8px;" width="24" height="24" viewBox="1304 1262 24 24"><circle cx="1315.2" cy="1272.6" r="10.2" fill="#6b7ff2"/><path d="M1315.2 1269.2 V1273.4" stroke="#fff" stroke-width="1.25" stroke-linecap="round"/><circle cx="1315.2" cy="1276.5" r="0.85" fill="#fff"/></svg>
  <a class="t" style="left:617.7px;top:45.8px;font-size:23.6px;line-height:23.6px;color:#5350f2;letter-spacing:0.89px;-webkit-text-stroke:0.25px #5350f2;">Clear selection</a>
  <button class="selact" style="left:818.9px;top:26.2px;width:225.8px;height:63.4px;">
   <span class="t" style="left:19.6px;top:18.6px;font-size:24px;line-height:24px;color:#0a0a0a;font-weight:700;letter-spacing:0.89px;transform:scaleX(0.92);transform-origin:0 0;">Select action</span>
   <svg class="ic" style="left:181.8px;top:24.6px;" width="19.6" height="13.8" viewBox="2031 1266 19.6 13.8"><g fill="none" stroke="#222" stroke-width="1.45" stroke-linecap="round" stroke-linejoin="round" ><path d="M2034 1269 L2040.8 1276.8 L2047.6 1269"/></g></svg>
  </button>
 </div>
 <div class="menu" style="left:1781px;top:653.2px;width:364.8px;height:583.4px;">
  <span class="t" style="left:29.4px;top:29.8px;font-size:19.8px;line-height:19.8px;color:#111;letter-spacing:3.14px;-webkit-text-stroke:0.5px #111;transform:scaleX(0.93);transform-origin:0 0;">ORG ACTIONS</span>
  <span class="t" style="left:29.4px;top:259.8px;font-size:19.8px;line-height:19.8px;color:#111;letter-spacing:3.18px;-webkit-text-stroke:0.5px #111;transform:scaleX(0.93);transform-origin:0 0;">TEAM ACTIONS</span>
  <div class="mhl" style="left:15.7px;top:355.3px;width:330.6px;height:58.6px;"></div>
  <div class="mhr" style="left:9.9px;top:481.2px;width:343.4px;height:1.7px;"></div>
  <span class="t" style="left:70.8px;top:84.8px;font-size:22px;line-height:22px;color:#3c3c3c;letter-spacing:1.44px;">Approve request to join</span>
  <span class="t" style="left:70.8px;top:143.8px;font-size:22px;line-height:22px;color:#3c3c3c;letter-spacing:1.28px;">Deny request to join</span>
  <span class="t" style="left:70.8px;top:203.8px;font-size:22px;line-height:22px;color:#3c3c3c;letter-spacing:0.95px;">Edit org role</span>
  <span class="t" style="left:70.8px;top:315.8px;font-size:22px;line-height:22px;color:#3c3c3c;letter-spacing:1.94px;">Add to team</span>
  <span class="t" style="left:70.8px;top:374.8px;font-size:22px;line-height:22px;color:#3c3c3c;letter-spacing:1.25px;">Edit billing group</span>
  <span class="t" style="left:70.8px;top:434.8px;font-size:22px;line-height:22px;color:#ee6a4a;letter-spacing:1.84px;">Remove from team</span>
  <span class="t" style="left:70.8px;top:527.8px;font-size:22px;line-height:22px;color:#ee6a4a;letter-spacing:1.05px;">Delete user</span>
  <svg class="ic" style="left:29px;top:79.4px;" width="34" height="32" viewBox="1810 732.6 34 32"><g fill="none" stroke="#3c3c3c" stroke-width="1.3" stroke-linecap="round" stroke-linejoin="round" ><path d="M1817.4 748 L1823 753.4 L1834.8 740.6"/></g></svg>
  <svg class="ic" style="left:29px;top:140px;" width="34" height="32" viewBox="1810 793.2 34 32"><g fill="none" stroke="#3c3c3c" stroke-width="1.3" stroke-linecap="round" stroke-linejoin="round" ><path d="M1819.1 801.3 L1832.9 815.1 M1832.9 801.3 L1819.1 815.1"/></g></svg>
  <svg class="ic" style="left:29px;top:199px;" width="34" height="32" viewBox="1810 852.2 34 32"><g fill="none" stroke="#3c3c3c" stroke-width="1.3" stroke-linecap="round" stroke-linejoin="round" ><path transform="translate(-0.8 -0.6)" d="M1816.2 878.2 L1817.6 872.2 L1831.6 858.2 Q1833.6 856.6 1835.6 858.6 Q1837.4 860.6 1835.6 862.6 L1821.8 876.4 Z M1817.6 872.2 L1821.8 876.4"/></g></svg>
  <svg class="ic" style="left:29px;top:310.2px;" width="34" height="32" viewBox="1810 963.4 34 32"><g fill="none" stroke="#3c3c3c" stroke-width="1.3" stroke-linecap="round" stroke-linejoin="round" ><circle cx="1823.8" cy="975" r="4.6"/><path d="M1815.6 988.8 V987 A4.6 4.6 0 0 1 1820.2 982.4 H1827.4 A4.6 4.6 0 0 1 1832 987 V988.8"/><path d="M1831.4 977 H1837.6 M1834.5 973.9 V980.1"/></g></svg>
  <svg class="ic" style="left:29px;top:370.4px;" width="34" height="32" viewBox="1810 1023.6 34 32"><g fill="none" stroke="#3c3c3c" stroke-width="1.3" stroke-linecap="round" stroke-linejoin="round" ><rect x="1815.6" y="1032.4" width="22" height="14.6" rx="2.2"/><path d="M1815.6 1037.6 H1837.6"/></g></svg>
  <svg class="ic" style="left:29px;top:430.2px;" width="34" height="32" viewBox="1810 1083.4 34 32"><g fill="none" stroke="#ee6a4a" stroke-width="1.3" stroke-linecap="round" stroke-linejoin="round" ><circle cx="1823.8" cy="1095" r="4.6"/><path d="M1815.6 1108.8 V1107 A4.6 4.6 0 0 1 1820.2 1102.4 H1827.4 A4.6 4.6 0 0 1 1832 1107 V1108.8"/><path d="M1831.4 1097 H1837.6"/></g></svg>
  <svg class="ic" style="left:29px;top:522px;" width="34" height="32" viewBox="1810 1175.2 34 32"><g fill="none" stroke="#ee6a4a" stroke-width="1.3" stroke-linecap="round" stroke-linejoin="round" ><path transform="translate(0 -1)" d="M1817 1185.6 H1836.2 M1822.6 1185.6 V1183.6 Q1822.6 1181.8 1824.4 1181.8 H1828.8 Q1830.6 1181.8 1830.6 1183.6 V1185.6 M1818.6 1185.6 V1200 Q1818.6 1202.6 1821.2 1202.6 H1832 Q1834.6 1202.6 1834.6 1200 V1185.6 M1824.4 1190.6 V1197.6 M1828.8 1190.6 V1197.6"/></g></svg>
 </div>
</div>
</body>
</html>
